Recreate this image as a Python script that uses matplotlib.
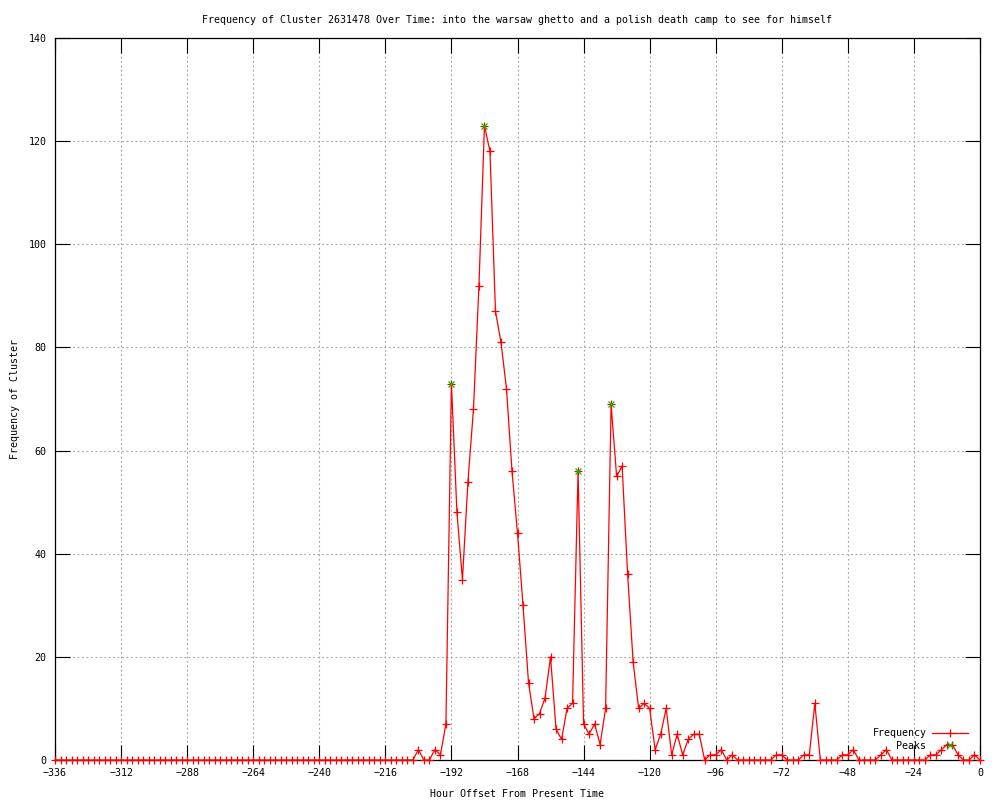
import matplotlib
matplotlib.use("Agg")
import matplotlib.pyplot as plt

TITLE = ("Frequency of Cluster 2631478 Over Time: into the warsaw ghetto "
         "and a polish death camp to see for himself")

# one sample every 2 hours, from -336 up to 0
hours = list(range(-336, 1, 2))
freq = [
    0, 0, 0, 0, 0, 0, 0, 0, 0, 0, 0, 0,      # -336 .. -314
    0, 0, 0, 0, 0, 0, 0, 0, 0, 0, 0, 0,      # -312 .. -290
    0, 0, 0, 0, 0, 0, 0, 0, 0, 0, 0, 0,      # -288 .. -266
    0, 0, 0, 0, 0, 0, 0, 0, 0, 0, 0, 0,      # -264 .. -242
    0, 0, 0, 0, 0, 0, 0, 0, 0, 0, 0, 0,      # -240 .. -218
    0, 0, 0, 0, 0, 0, 2, 0, 0, 2, 1, 7,      # -216 .. -194
    73, 48, 35, 54, 68, 92, 123, 118, 87, 81, 72, 56,   # -192 .. -170
    44, 30, 15, 8, 9, 12, 20, 6, 4, 10, 11, 56,         # -168 .. -146
    7, 5, 7, 3, 10, 69, 55, 57, 36, 19, 10, 11,         # -144 .. -122
    10, 2, 5, 10, 1, 5, 1, 4, 5, 5, 0, 1,               # -120 .. -98
    1, 2, 0, 1, 0, 0, 0, 0, 0, 0, 0, 1,                 # -96 .. -74
    1, 0, 0, 0, 1, 1, 11, 0, 0, 0, 0, 1,                # -72 .. -50
    1, 2, 0, 0, 0, 0, 1, 2, 0, 0, 0, 0,                 # -48 .. -26
    0, 0, 0, 1, 1, 2, 3, 3, 1, 0, 0, 1,                 # -24 .. -2
    0,                                                  # 0
]

peak_hours = [-192, -180, -146, -134]
peak_freq = [73, 123, 56, 69]

x_ticks = list(range(-336, 1, 24))
y_ticks = list(range(0, 141, 20))

FS = 7.2
matplotlib.rcParams['font.family'] = 'DejaVu Sans Mono'
matplotlib.rcParams['font.size'] = FS

fig = plt.figure(figsize=(10, 8), dpi=100)
ax = fig.add_axes([0.055, 0.05, 0.925, 0.9025])

ax.plot(hours, freq, color='red', lw=0.9, marker='+', ms=6, mew=0.9,
        label='Frequency', clip_on=False, zorder=3)
ax.plot(peak_hours, peak_freq, ls='none', color='#00c000', marker='x',
        ms=5, mew=0.9, label='Peaks', clip_on=False, zorder=4)

ax.set_xlim(-336, 0)
ax.set_ylim(0, 140)
ax.set_xticks(x_ticks)
ax.set_yticks(y_ticks)
ax.tick_params(direction='in', length=11, width=0.8, top=True, right=True,
               pad=6, labelsize=FS)
for s in ax.spines.values():
    s.set_linewidth(0.9)

ax.grid(True, color='#a0a0a0', ls=(0, (1.5, 2.5)), lw=0.8)
ax.set_axisbelow(True)

ax.set_title(TITLE, fontsize=FS, pad=11)
ax.set_xlabel('Hour Offset From Present Time', labelpad=8)
ax.set_ylabel('Frequency of Cluster', labelpad=6)

ax.legend(loc='lower right', bbox_to_anchor=(0.995, 0.003), frameon=False,
          markerfirst=False, handlelength=3.6, handletextpad=0.6,
          labelspacing=0.25, borderaxespad=0.3, fontsize=FS)

fig.savefig('out.png', dpi=100)
